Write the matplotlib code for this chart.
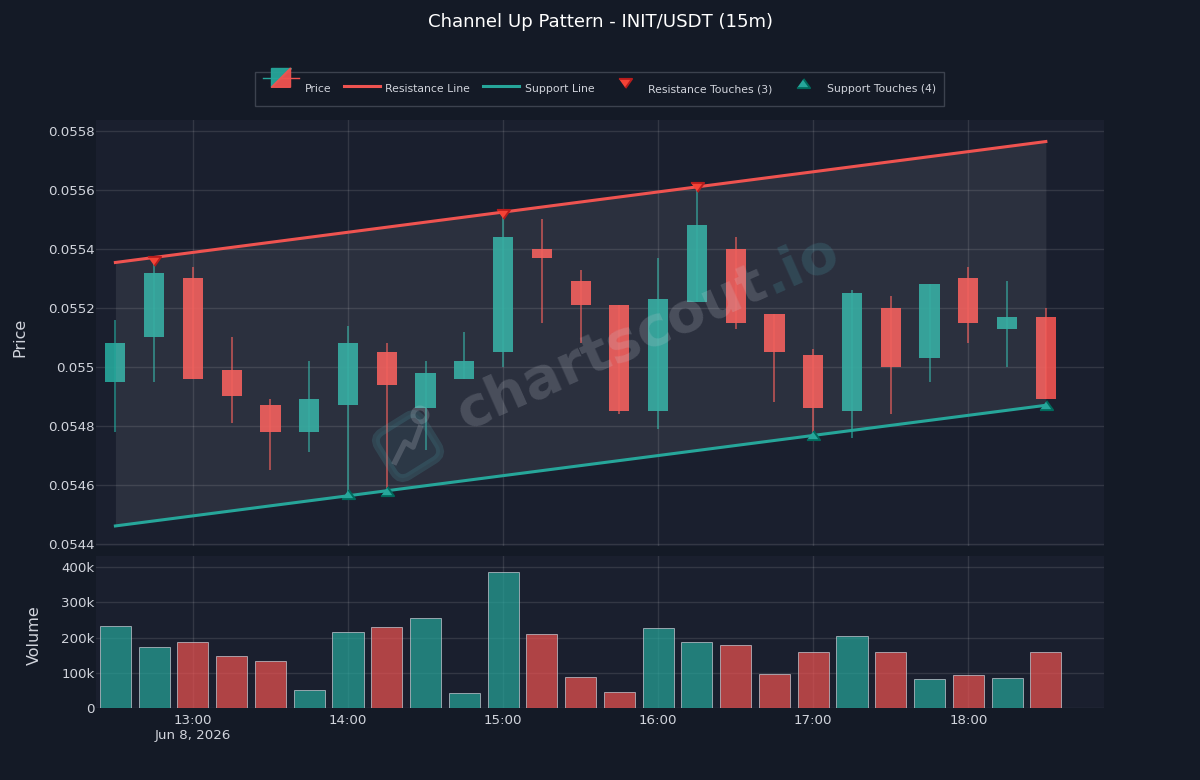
import numpy as np
import pandas as pd
import matplotlib
matplotlib.use("Agg")
import matplotlib.pyplot as plt
from matplotlib.legend_handler import HandlerBase
from matplotlib.lines import Line2D
from matplotlib.patches import Polygon, FancyBboxPatch, Circle
from matplotlib.transforms import Affine2D

# ------------------------- chart data --------------------------------
times = pd.date_range("2026-06-08 12:30", periods=25, freq="15min")

opens = [0.05495, 0.05510, 0.05530, 0.05499, 0.05487, 0.05478, 0.05487, 0.05505, 0.05486, 0.05496,
         0.05505, 0.05540, 0.05529, 0.05521, 0.05485, 0.05522, 0.05540, 0.05518, 0.05504, 0.05485,
         0.05520, 0.05503, 0.05530, 0.05513, 0.05517]
highs = [0.05516, 0.05536, 0.05534, 0.05510, 0.05489, 0.05502, 0.05514, 0.05508, 0.05502, 0.05512,
         0.05552, 0.05550, 0.05533, 0.05521, 0.05537, 0.05561, 0.05544, 0.05518, 0.05506, 0.05526,
         0.05524, 0.05528, 0.05534, 0.05529, 0.05520]
lows = [0.05478, 0.05495, 0.05496, 0.05481, 0.05465, 0.05471, 0.05457, 0.05459, 0.05472, 0.05496,
        0.05500, 0.05515, 0.05508, 0.05484, 0.05479, 0.05522, 0.05513, 0.05488, 0.05478, 0.05476,
        0.05484, 0.05495, 0.05508, 0.05500, 0.05489]
closes = [0.05508, 0.05532, 0.05496, 0.05490, 0.05478, 0.05489, 0.05508, 0.05494, 0.05498, 0.05502,
          0.05544, 0.05537, 0.05521, 0.05485, 0.05523, 0.05548, 0.05515, 0.05505, 0.05486, 0.05525,
          0.05500, 0.05528, 0.05515, 0.05517, 0.05489]
volumes = [234000, 172000, 188000, 147000, 135000, 51000, 217000, 230000, 255000, 42000,
           386000, 210000, 87000, 45000, 227000, 187000, 178000, 96000, 158000, 204000,
           158000, 82000, 93000, 84000, 158000]

resistance_line = [0.055354, 0.055764]
support_line = [0.054461, 0.054870]

resistance_times = pd.to_datetime(["2026-06-08 12:45", "2026-06-08 15:00", "2026-06-08 16:15"])
resistance_prices = [0.05536, 0.05552, 0.05561]
support_times = pd.to_datetime(["2026-06-08 14:00", "2026-06-08 14:15", "2026-06-08 17:00", "2026-06-08 18:30"])
support_prices = [0.05457, 0.05458, 0.05477, 0.05487]

price_ticks = [0.0544, 0.0546, 0.0548, 0.0550, 0.0552, 0.0554, 0.0556, 0.0558]
price_labels = ["0.0544", "0.0546", "0.0548", "0.055", "0.0552", "0.0554", "0.0556", "0.0558"]
volume_ticks = [0, 100000, 200000, 300000, 400000]
volume_labels = ["0", "100k", "200k", "300k", "400k"]
hour_ticks = pd.to_datetime(["2026-06-08 13:00", "2026-06-08 14:00", "2026-06-08 15:00",
                             "2026-06-08 16:00", "2026-06-08 17:00", "2026-06-08 18:00"])
hour_labels = ["13:00\nJun 8, 2026", "14:00", "15:00", "16:00", "17:00", "18:00"]

# ------------------------- styles --------------------------------
PAPER = "#141a26"
PANEL = "#1a1f2e"
TEAL = "#26a69a"
RED = "#ef5350"
TEXT = "#d1d4dc"

W, H = 1200, 780
RES_MARKER = [(-1, 0.7), (1, 0.7), (0, -0.7)]
SUP_MARKER = [(-1, -0.7), (1, -0.7), (0, 0.7)]


def panel(left, top, right, bottom):
    return [left / W, 1 - bottom / H, (right - left) / W, (bottom - top) / H]


class PriceHandler(HandlerBase):
    # small candle split into the up and down colours
    def create_artists(self, legend, orig, x0, y0, width, height, fontsize, trans):
        cx, cy = x0 + width / 2, y0 + height / 2
        s = width * 0.27
        wick = Line2D([x0, cx], [cy, cy], color=TEAL, lw=1, transform=trans)
        wick2 = Line2D([cx, x0 + width], [cy, cy], color=RED, lw=1, transform=trans)
        up = Polygon([[cx - s, cy - s], [cx - s, cy + s], [cx + s, cy + s]], color=TEAL, alpha=0.95, transform=trans)
        down = Polygon([[cx - s, cy - s], [cx + s, cy + s], [cx + s, cy - s]], color=RED, alpha=0.95, transform=trans)
        return [wick, wick2, up, down]


fig = plt.figure(figsize=(W / 100, H / 100), dpi=100, facecolor=PAPER)
ax = fig.add_axes(panel(96, 120, 1104, 546), facecolor=PANEL)
axv = fig.add_axes(panel(96, 556, 1104, 708), facecolor=PANEL, sharex=ax)

colours = [TEAL if c >= o else RED for o, c in zip(opens, closes)]
body_width = pd.Timedelta(minutes=7.8) / pd.Timedelta(days=1)
volume_width = pd.Timedelta(minutes=12) / pd.Timedelta(days=1)

# candles
ax.vlines(times, lows, highs, colors=colours, lw=1.1, alpha=0.8, zorder=3)
ax.bar(times, np.abs(np.array(closes) - np.array(opens)), bottom=np.minimum(opens, closes),
       width=body_width, color=colours, alpha=0.92, zorder=3)

# channel, drawn over the candles
line_times = [times[0], times[-1]]
ax.fill_between(line_times, support_line, resistance_line, color="white", alpha=0.08, lw=0, zorder=4)
resistance, = ax.plot(line_times, resistance_line, color=RED, lw=2.2, zorder=5)
support, = ax.plot(line_times, support_line, color=TEAL, lw=2.2, zorder=5)
res_pts = ax.scatter(resistance_times, resistance_prices, marker=RES_MARKER, s=90, color="#f44336",
                     edgecolors="#b71c1c", linewidths=1.4, zorder=6, clip_on=False)
sup_pts = ax.scatter(support_times, support_prices, marker=SUP_MARKER, s=90, color="#26a69a",
                     edgecolors="#00695c", linewidths=1.4, zorder=6, clip_on=False)

# volume
axv.bar(times, volumes, width=volume_width, color=colours, alpha=0.7, edgecolor="#c9ccd4", lw=0.7, zorder=3)

ax.set_ylim(0.054393, 0.055837)
axv.set_ylim(0, 432000)
ax.set_xlim(pd.Timestamp("2026-06-08 12:22:30"), pd.Timestamp("2026-06-08 18:52:30"))

ax.set_yticks(price_ticks, price_labels)
axv.set_yticks(volume_ticks, volume_labels)
for a in (ax, axv):
    a.tick_params(axis="both", length=0, labelsize=9.6, labelcolor=TEXT, pad=1)
    a.grid(True, color="white", alpha=0.11, lw=1)
    a.set_axisbelow(True)
    for s in a.spines.values():
        s.set_visible(False)
axv.set_xticks(hour_ticks, hour_labels, ha="center", linespacing=1.25)
ax.tick_params(axis="x", labelbottom=False)
axv.tick_params(axis="x", pad=4)

ax.set_ylabel("Price", fontsize=11.5, color=TEXT)
ax.yaxis.set_label_coords(-0.0685, 0.49)
axv.set_ylabel("Volume", fontsize=11.5, color=TEXT)
axv.yaxis.set_label_coords(-0.0535, 0.48)

fig.text(0.5, 1 - 22 / H, "Channel Up Pattern - INIT/USDT (15m)", color="white", fontsize=13.05, ha="center", va="center")

# watermark
wm_rot = 24
fig.text(466 / W, 1 - 430 / H, "chartscout", fontsize=40, fontweight="bold", color=(0.78, 0.80, 0.84, 0.2),
         rotation=wm_rot, rotation_mode="anchor", ha="left", va="baseline", zorder=10)
fig.text(771 / W, 1 - 294 / H, ".io", fontsize=40, fontweight="bold", color=(0.3, 0.65, 0.7, 0.2),
         rotation=wm_rot, rotation_mode="anchor", ha="left", va="baseline", zorder=10)

# watermark logo, in pixels from the top left of the figure
px = Affine2D().scale(1, -1).translate(0, H)
logo = FancyBboxPatch((-26, -26), 52, 52, boxstyle="round,pad=0,rounding_size=11",
                      facecolor=(0.25, 0.6, 0.65, 0.08), edgecolor=(0.3, 0.62, 0.65, 0.2), lw=5.5, zorder=10,
                      transform=Affine2D().rotate_deg(-32).translate(408, 446) + px)
fig.add_artist(logo)
fig.add_artist(Line2D([395, 405, 413, 420], [462, 442, 447, 428], color=(0.78, 0.80, 0.84, 0.22), lw=4,
                      transform=px, zorder=10))
fig.add_artist(Circle((420, 415), 7, fill=False, edgecolor=(0.78, 0.80, 0.84, 0.22), lw=3.5, transform=px, zorder=10))

price_handle = Line2D([], [])
legend = fig.legend(handles=[price_handle, resistance, support, res_pts, sup_pts],
                    labels=["Price", "Resistance Line", "Support Line", "Resistance Touches (3)", "Support Touches (4)"],
                    handler_map={price_handle: PriceHandler()},
                    ncol=5, fontsize=7.8, loc="center", bbox_to_anchor=(599.5 / W, 1 - 89 / H),
                    frameon=True, fancybox=False, facecolor=PAPER, edgecolor="#3c424e",
                    handlelength=3.3, handleheight=2.2, handletextpad=0.55, columnspacing=1.15,
                    borderpad=0.7, labelcolor=TEXT, framealpha=1, scatterpoints=1, scatteryoffsets=[0.5])
legend.get_frame().set_linewidth(1)
fig.savefig("out.png", dpi=100, facecolor=PAPER)
